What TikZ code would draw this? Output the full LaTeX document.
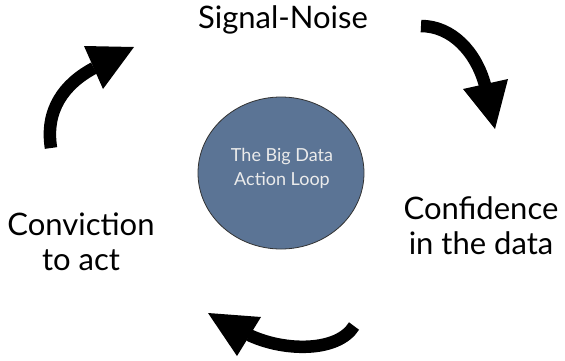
\documentclass[tikz,border=0pt]{standalone}
\usepackage{fontspec}
\setmainfont{Lato}
\usetikzlibrary{shapes.geometric}
\definecolor{loopblue}{HTML}{5B7495}
\tikzset{
  lbl/.style={font=\fontsize{31}{35}\selectfont, align=center, inner sep=0pt},
  shaft/.style={line width=12.5pt, line cap=butt},
  head/.style={fill=black, draw=none},
  hub/.style={ellipse, fill=loopblue, draw=black!80, line width=0.8pt, minimum width=166pt, minimum height=152pt, inner sep=0pt},
  hubtext/.style={align=center, text=white!92!black, font=\fontsize{18}{24}\selectfont, inner sep=0pt},
}
\begin{document}
\begin{tikzpicture}[x=1pt,y=-1pt]
\useasboundingbox (0,0) rectangle (565,360);
\fill[white] (0,0) rectangle (565,360);
% centre circle
\node[hub] (c) at (281,173) {};
\node[hubtext] (ct) at (282,168) {The Big Data\\Action Loop};
% labels
\node[lbl, anchor=base] (sn) at (283,28) {Signal-Noise};
\node[lbl] (cd) at (481,226) {Confidence\\in the data};
\node[lbl] (ca) at (81,242) {Conviction\\to act};
% arrows
\coordinate (a1s) at (421,26);
\coordinate (a1e) at (485,85);
\draw[shaft] (a1s) .. controls (452,26) and (476,52) .. (a1e);
\fill[head] (463,89) -- (508,79) -- (495,129) -- cycle;
\coordinate (a2s) at (354,326);
\coordinate (a2e) at (249,335);
\draw[shaft] (a2s) .. controls (338,352) and (285,352) .. (a2e);
\fill[head] (208,313) -- (261,317) -- (237,356) -- cycle;
\coordinate (a3s) at (51,148);
\coordinate (a3e) at (94,68);
\draw[shaft] (a3s) .. controls (45,110) and (64,84) .. (a3e);
\fill[head] (84,46) -- (134,47) -- (103,89) -- cycle;
\end{tikzpicture}
\end{document}
